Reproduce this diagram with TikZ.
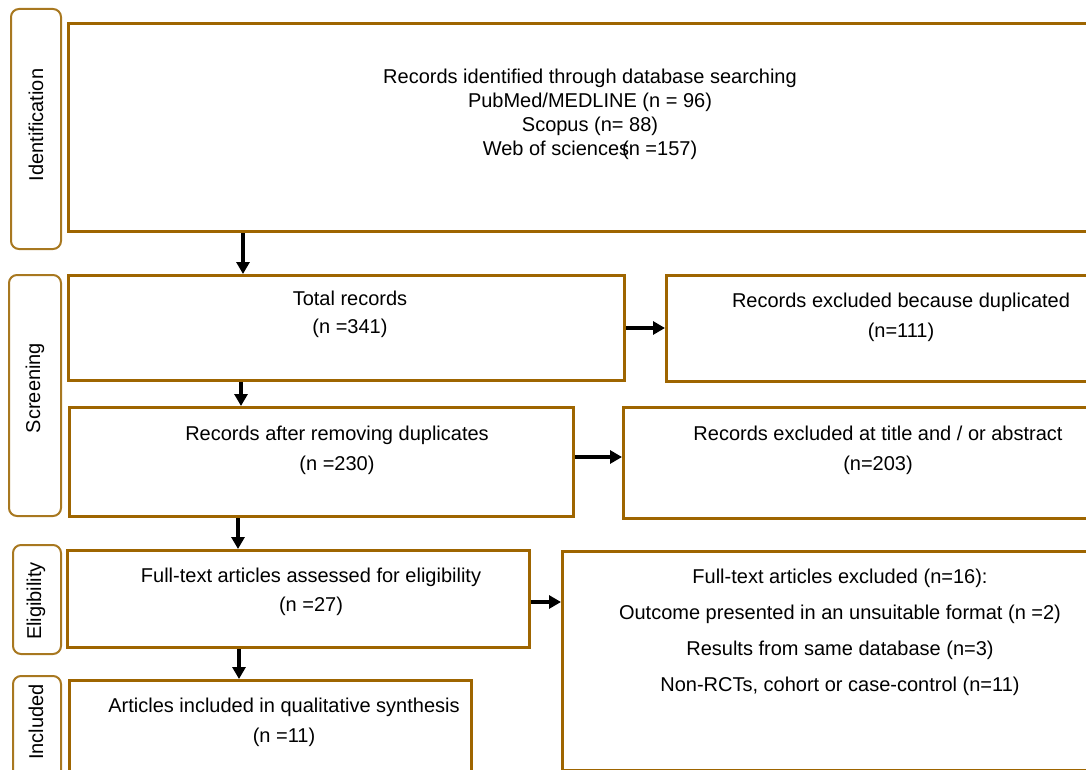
\documentclass[tikz,border=0pt]{standalone}
\usepackage{fontspec}
\setmainfont{Liberation Sans}
\usepackage{tikz}
\usetikzlibrary{arrows.meta}
\definecolor{boxbrown}{RGB}{158,101,0}
\definecolor{tabbrown}{RGB}{168,120,32}

\begin{document}
\begin{tikzpicture}[x=1pt,y=-1pt,>={Triangle[length=12pt,width=13pt]},
                    every node/.style={font=\fontsize{20}{24}\selectfont}]
  \tikzstyle{box}=[draw=boxbrown,line width=3pt,rectangle,anchor=north west,inner sep=0pt]
  \tikzstyle{tab}=[draw=tabbrown,line width=2pt,rounded corners=8pt,anchor=north west,inner sep=0pt]
  \tikzstyle{txt}=[align=center,inner sep=0pt]
  \tikzstyle{arr}=[->,draw=black,line width=3.5pt]

  \useasboundingbox (0,0) rectangle (1086,770);
  \clip (0,0) rectangle (1086,770);

  \node[tab,minimum width=50pt,minimum height=240pt] (sid)  at (10,8)   {};
  \node[tab,minimum width=52pt,minimum height=241pt] (sscr) at (8,274)  {};
  \node[tab,minimum width=48pt,minimum height=109pt] (sel)  at (12,544) {};
  \node[tab,minimum width=48pt,minimum height=125pt] (sinc) at (12,675) {};
  \node[txt,rotate=90] (lid)  at (36,125) {Identification};
  \node[txt,rotate=90] (lscr) at (35,388) {Screening};
  \node[txt,rotate=90] (lel)  at (36,601) {Eligibility};
  \node[txt,rotate=90] (linc) at (36,722) {Included};

  \node[box,minimum width=1048pt,minimum height=208pt] (id)  at (67,22)   {};
  \node[box,minimum width=556pt,minimum height=105pt]  (tot) at (67,274)  {};
  \node[box,minimum width=472pt,minimum height=106pt]  (dup) at (665,274) {};
  \node[box,minimum width=504pt,minimum height=109pt]  (aft) at (68,406)  {};
  \node[box,minimum width=512pt,minimum height=111pt]  (ttl) at (622,406) {};
  \node[box,minimum width=462pt,minimum height=97pt]   (ass) at (66,549)  {};
  \node[box,minimum width=558pt,minimum height=219pt]  (exc) at (561,550) {};
  \node[box,minimum width=402pt,minimum height=111pt]  (inc) at (68,679)  {};

  \node[txt] (tid)  at (590,114) {Records identified through database searching\\
    PubMed/MEDLINE (n = 96)\\Scopus (n= 88)\\Web of sciences\kern-0.35em(n =157)};
  \node[txt] (ttot) at (350,314) {Total records\\[4pt](n =341)};
  \node[txt] (tdup) at (901,317) {Records excluded because duplicated\\[6pt](n=111)};
  \node[txt] (taft) at (337,450) {Records after removing duplicates\\[6pt](n =230)};
  \node[txt] (tttl) at (878,450) {Records excluded at title and / or abstract\\[6pt](n=203)};
  \node[txt] (tass) at (311,592) {Full-text articles assessed for eligibility\\[5pt](n =27)};
  \node[txt] (texc) at (840,632) {Full-text articles excluded (n=16):\\[12pt]
    Outcome presented in an unsuitable format (n =2)\\[12pt]
    Results from same database (n=3)\\[12pt]Non-RCTs, cohort or case-control (n=11)};
  \node[txt] (tinc) at (284,722) {Articles included in qualitative synthesis\\[6pt](n =11)};

  \draw[arr] ([xshift=176pt]id.south west) -- ([xshift=176pt]tot.north west);
  \draw[arr] ([xshift=174pt]tot.south west) -- ([xshift=173pt]aft.north west);
  \draw[arr] ([xshift=170pt]aft.south west) -- ([xshift=172pt]ass.north west);
  \draw[arr] ([xshift=173pt]ass.south west) -- ([xshift=171pt]inc.north west);
  \draw[arr] (tot.east) -- (tot.east -| dup.west);
  \draw[arr] ([yshift=5pt]aft.east) -- ([yshift=5pt]aft.east -| ttl.west);
  \draw[arr] ([yshift=-3pt]ass.east) -- ([yshift=-3pt]ass.east -| exc.west);
\end{tikzpicture}
\end{document}
